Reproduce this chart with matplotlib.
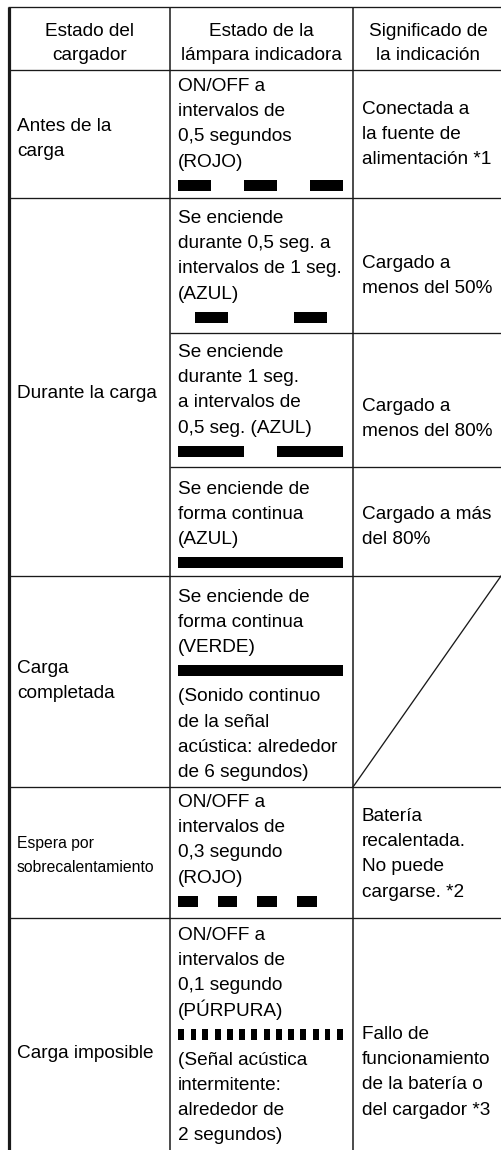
import matplotlib
matplotlib.use("Agg")
import matplotlib.pyplot as plt
from matplotlib import font_manager

_names = {f.name for f in font_manager.fontManager.ttflist}
if 'Liberation Sans Narrow' in _names:
    plt.rcParams['font.family'] = ['Liberation Sans Narrow', 'DejaVu Sans']
    fs, fs_small = 15.6, 13.0
else:
    plt.rcParams['font.family'] = ['Liberation Sans', 'DejaVu Sans']
    fs, fs_small = 13.7, 11.3

# ---------------- data ----------------
headers = [
    ["Estado del", "cargador"],
    ["Estado de la", "lámpara indicadora"],
    ["Significado de", "la indicación"],
]

charger_states = [
    ["Antes de la", "carga"],
    ["Durante la carga"],
    ["Carga", "completada"],
    ["Espera por", "sobrecalentamiento"],
    ["Carga imposible"],
]

lamp_text_before = [
    ["ON/OFF a", "intervalos de", "0,5 segundos", "(ROJO)"],
    ["Se enciende", "durante 0,5 seg. a", "intervalos de 1 seg.", "(AZUL)"],
    ["Se enciende", "durante 1 seg.", "a intervalos de", "0,5 seg. (AZUL)"],
    ["Se enciende de", "forma continua", "(AZUL)"],
    ["Se enciende de", "forma continua", "(VERDE)"],
    ["ON/OFF a", "intervalos de", "0,3 segundo", "(ROJO)"],
    ["ON/OFF a", "intervalos de", "0,1 segundo", "(PÚRPURA)"],
]

lamp_text_after = [
    [], [], [], [],
    ["(Sonido continuo", "de la señal", "acústica: alrededor", "de 6 segundos)"],
    [],
    ["(Señal acústica", "intermitente:", "alrededor de", "2 segundos)"],
]

# lamp ON periods (start, duration) in seconds, over a 2.5 s strip
lamp_on_periods = [
    [(0.0, 0.5), (1.0, 0.5), (2.0, 0.5)],
    [(0.25, 0.5), (1.75, 0.5)],
    [(0.0, 1.0), (1.5, 1.0)],
    [(0.0, 2.5)],
    [(0.0, 2.5)],
    [(0.0, 0.3), (0.6, 0.3), (1.2, 0.3), (1.8, 0.3)],
    [(0.00, 0.09), (0.19, 0.09), (0.37, 0.09), (0.56, 0.09), (0.74, 0.09),
     (0.93, 0.09), (1.11, 0.09), (1.30, 0.09), (1.48, 0.09), (1.67, 0.09),
     (1.85, 0.09), (2.04, 0.09), (2.22, 0.09), (2.41, 0.09)],
]
strip_seconds = 2.5

meanings = [
    ["Conectada a", "la fuente de", "alimentación *1"],
    ["Cargado a", "menos del 50%"],
    ["Cargado a", "menos del 80%"],
    ["Cargado a más", "del 80%"],
    None,
    ["Batería", "recalentada.", "No puede", "cargarse. *2"],
    ["Fallo de", "funcionamiento", "de la batería o", "del cargador *3"],
]

# ---------------- layout (pixels) ----------------
W, H = 501, 1150
x_left, x_c1, x_c2, x_right = 9, 170, 353, 503
y_top, y_head = 7, 70
sub_bounds = [70, 198, 333, 467, 576, 787, 918, 1150]   # col 2/3 sub-rows
main_bounds = [70, 198, 576, 787, 918, 1150]            # col 1 rows
col1_first_base = [131, 398, 673, 848, 1058]
col2_first_base = [91, 223, 357, 494, 602, 807, 940]
col3_first_base = [114, 268, 411, 519, None, 821, 1039]
pitch = 25.2
bar_gap, bar_h = 13, 11
strip_x0, strip_w = 178, 165

fig = plt.figure(figsize=(W / 100, H / 100), dpi=100)
fig.patch.set_facecolor('white')
ax = fig.add_axes([0, 0, 1, 1])
ax.set_xlim(0, W)
ax.set_ylim(H, 0)
ax.axis('off')

lc = '#1a1a1a'
lw = 0.95

# grid lines
for y in [y_top, y_head] + main_bounds[1:-1]:
    ax.plot([x_left - 1, W], [y, y], color=lc, lw=lw, solid_capstyle='butt')
for y in [333, 467]:
    ax.plot([x_c1, W], [y, y], color=lc, lw=lw, solid_capstyle='butt')
ax.plot([x_left, x_left], [y_top, H], color=lc, lw=2.3, solid_capstyle='butt')
for x in [x_c1, x_c2]:
    ax.plot([x, x], [y_top, H], color=lc, lw=1.1, solid_capstyle='butt')

# header
centers = [(x_left + x_c1) / 2, (x_c1 + x_c2) / 2, (x_c2 + x_right) / 2]
for cx, lines in zip(centers, headers):
    for k, t in enumerate(lines):
        ax.text(cx, 36 + k * 23.5, t, ha='center', va='baseline', fontsize=fs)

# column 1
for i, lines in enumerate(charger_states):
    size = fs_small if i == 3 else fs
    p = 24 if i == 3 else pitch
    for k, t in enumerate(lines):
        ax.text(17, col1_first_base[i] + k * p, t, ha='left', va='baseline', fontsize=size)

# column 2
for i in range(len(lamp_text_before)):
    y = col2_first_base[i]
    for k, t in enumerate(lamp_text_before[i]):
        ax.text(178, y + k * pitch, t, ha='left', va='baseline', fontsize=fs)
    last = y + (len(lamp_text_before[i]) - 1) * pitch
    bar_top = last + bar_gap
    sax = fig.add_axes([strip_x0 / W, 1 - (bar_top + bar_h) / H, strip_w / W, bar_h / H])
    sax.set_xlim(0, strip_seconds)
    sax.set_ylim(0, 1)
    sax.axis('off')
    sax.broken_barh(lamp_on_periods[i], (0, 1), facecolors='black', edgecolor='none')
    y2 = bar_top + bar_h + 25
    for k, t in enumerate(lamp_text_after[i]):
        ax.text(178, y2 + k * pitch, t, ha='left', va='baseline', fontsize=fs)

# column 3
for i, lines in enumerate(meanings):
    if lines is None:
        ax.plot([x_c2, W], [sub_bounds[i + 1], sub_bounds[i]], color=lc, lw=lw)
        continue
    for k, t in enumerate(lines):
        ax.text(362, col3_first_base[i] + k * pitch, t, ha='left', va='baseline', fontsize=fs)

fig.savefig('out.png', dpi=100, facecolor='white')
